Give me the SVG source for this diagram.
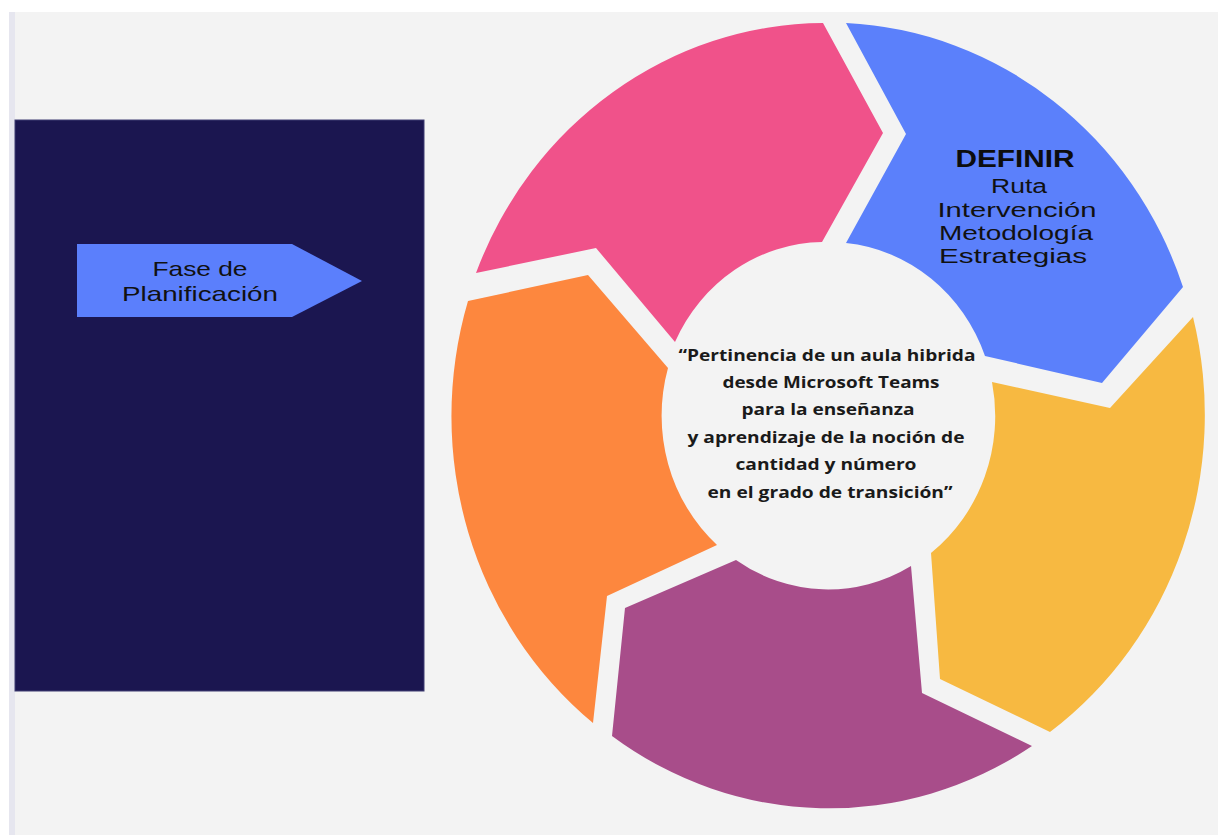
<svg xmlns="http://www.w3.org/2000/svg" width="1218" height="835" viewBox="0 0 1218 835">
  <style>
    .lbl { font-family: "Liberation Sans", Arial, sans-serif; fill: #111111; text-anchor: middle; }
    .lbl-b { font-family: "Liberation Sans", Arial, sans-serif; font-weight: bold; fill: #0d0d0d; text-anchor: middle; }
    .core { font-family: "Open Sans", "Noto Sans", sans-serif; font-weight: bold; font-size: 16px; fill: #1a1a1a; text-anchor: middle; }
  </style>

  <!-- canvas -->
  <rect x="0" y="0" width="1218" height="835" fill="#ffffff"/>
  <rect x="9" y="12" width="6" height="823" fill="#e6e6ef"/>
  <rect x="15" y="12" width="1203" height="823" fill="#f3f3f3"/>

  <!-- left panel -->
  <g id="panel">
    <rect x="15" y="120" width="409" height="571" fill="#1b1650" stroke="#3f3c72" stroke-width="1"/>
  </g>

  <g id="phase-tag">
    <polygon points="77,244 292,244 362,281 292,317 77,317" fill="#5b7ffc"/>
    <text class="lbl" x="200" y="276" font-size="21" textLength="95" lengthAdjust="spacingAndGlyphs">Fase de</text>
    <text class="lbl" x="200" y="301" font-size="21" textLength="156" lengthAdjust="spacingAndGlyphs">Planificación</text>
  </g>

  <!-- cycle ring: five arrow segments around an elliptical hub -->
  <g id="seg-pink">
    <path d="M476,273 A375,392 0 0 1 823,23 L883,133 L822,242 A165,173 0 0 0 675,342 L596,248 Z" fill="#f0528a"/>
  </g>

  <g id="seg-definir">
    <path d="M846,23 A375,392 0 0 1 1183,287 L1102,383 L985,356 A165,173 0 0 0 846,243 L906,134 Z" fill="#5b80fb"/>
    <text class="lbl-b" x="1015" y="167" font-size="23" textLength="119" lengthAdjust="spacingAndGlyphs">DEFINIR</text>
    <text class="lbl" x="1019" y="193" font-size="20" textLength="56" lengthAdjust="spacingAndGlyphs">Ruta</text>
    <text class="lbl" x="1017" y="217" font-size="20" textLength="159" lengthAdjust="spacingAndGlyphs">Intervención</text>
    <text class="lbl" x="1016" y="240" font-size="20" textLength="154" lengthAdjust="spacingAndGlyphs">Metodología</text>
    <text class="lbl" x="1013" y="263" font-size="20" textLength="148" lengthAdjust="spacingAndGlyphs">Estrategias</text>
  </g>

  <g id="seg-yellow">
    <path d="M1193,317 A375,392 0 0 1 1050,732 L940,679 L931,553 A165,173 0 0 0 992,382 L1110,408 Z" fill="#f7b941"/>
  </g>

  <g id="seg-purple">
    <path d="M1032,746 A375,392 0 0 1 612,736 L625,608 L736,560 A165,173 0 0 0 911,566 L922,693 Z" fill="#a84d8a"/>
  </g>

  <g id="seg-orange">
    <path d="M593,723 A375,392 0 0 1 468,301 L588,275 L668,368 A165,173 0 0 0 717,545 L607,596 Z" fill="#fd873e"/>
  </g>

  <g id="hub">
    <text class="core" x="827" y="361" textLength="297" lengthAdjust="spacingAndGlyphs">“Pertinencia de un aula hibrida</text>
    <text class="core" x="831" y="388" textLength="217" lengthAdjust="spacingAndGlyphs">desde Microsoft Teams</text>
    <text class="core" x="828" y="415" textLength="173" lengthAdjust="spacingAndGlyphs">para la enseñanza</text>
    <text class="core" x="826" y="443" textLength="277" lengthAdjust="spacingAndGlyphs">y aprendizaje de la noción de</text>
    <text class="core" x="826" y="470" textLength="181" lengthAdjust="spacingAndGlyphs">cantidad y número</text>
    <text class="core" x="830" y="498" textLength="245" lengthAdjust="spacingAndGlyphs">en el grado de transición”</text>
  </g>
</svg>
